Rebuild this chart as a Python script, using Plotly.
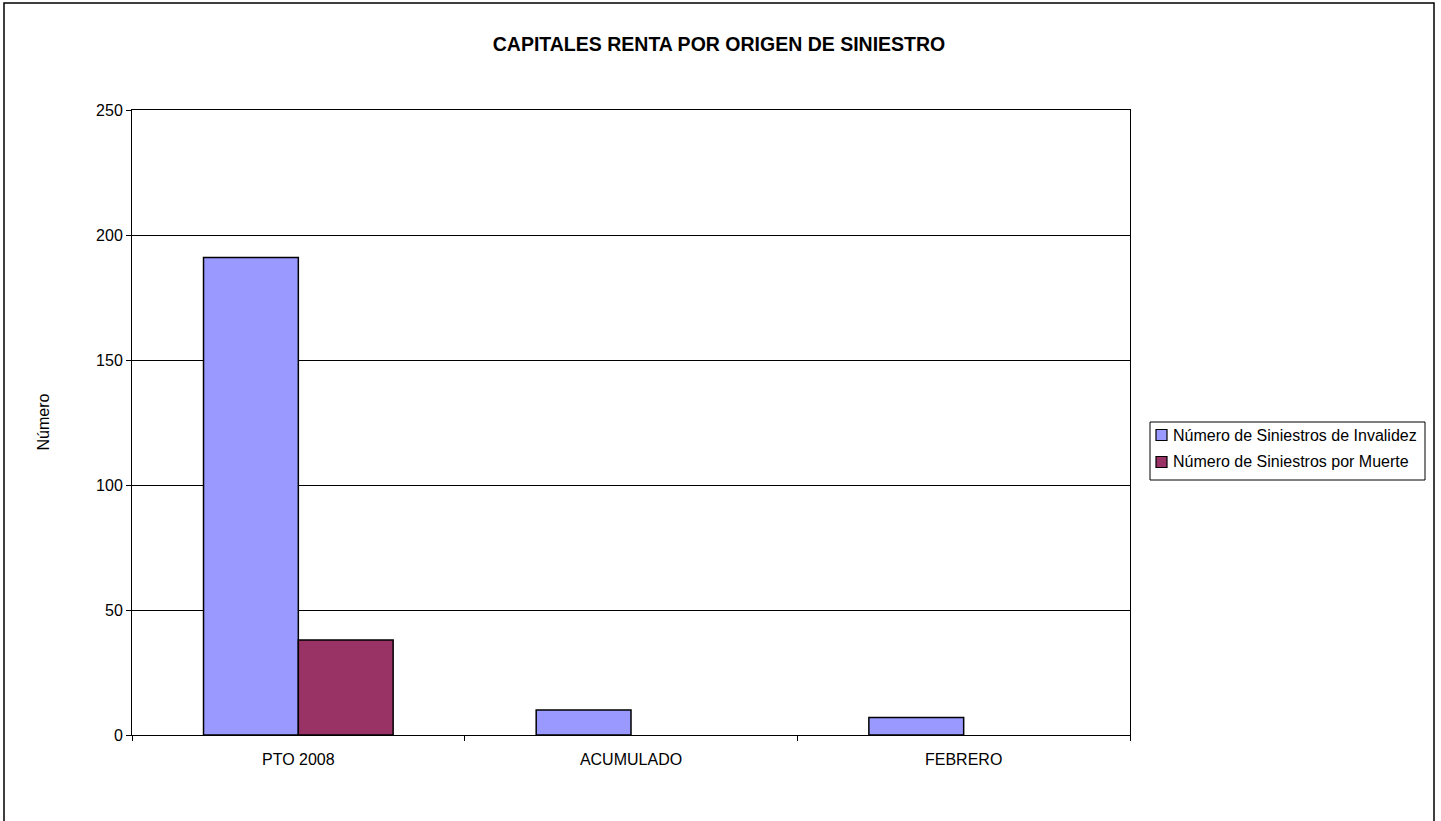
import plotly.graph_objects as go

categories = ["PTO 2008", "ACUMULADO", "FEBRERO"]
invalidez = [191, 10, 7]
muerte = [38, 0, 0]
series_names = ["Número de Siniestros de Invalidez", "Número de Siniestros por Muerte"]
series_colors = ["#9999FF", "#993366"]
y_ticks = [0, 50, 100, 150, 200, 250]

FAM = "Liberation Sans, Arial, sans-serif"
font = dict(family=FAM, size=16, color="black")

# plot area in page pixels
L, R, T, B = 132, 1130, 110, 735
W, H = 1441, 821


def px(x):
    return (x - L) / (R - L)


def py(y):
    return (B - y) / (B - T)


fig = go.Figure()
fig.add_trace(go.Bar(x=categories, y=invalidez, name=series_names[0],
                     marker=dict(color=series_colors[0], line=dict(color="black", width=1.5))))
fig.add_trace(go.Bar(x=categories, y=[v if v != 0 else None for v in muerte], name=series_names[1],
                     marker=dict(color=series_colors[1], line=dict(color="black", width=1.5))))

fig.update_layout(
    width=W, height=H,
    margin=dict(l=L, r=W - R, t=T, b=H - B, autoexpand=False),
    paper_bgcolor="white", plot_bgcolor="white",
    font=font,
    barmode="group", bargap=0.43, bargroupgap=0,
    title=dict(text="<b>CAPITALES RENTA POR ORIGEN DE SINIESTRO</b>",
               x=719 / W, xref="container", xanchor="center",
               y=1 - 44 / H, yref="container", yanchor="middle",
               font=dict(family=FAM, size=19.5, color="black")),
    showlegend=False,
)
fig.update_xaxes(type="category", tickson="boundaries", ticks="outside", ticklen=5,
                 tickcolor="black", showline=True, linecolor="black", linewidth=1,
                 mirror=True, showgrid=False, tickfont=font, ticklabelstandoff=10)
fig.update_yaxes(range=[0, 250], tickvals=y_ticks, ticks="outside", ticklen=5,
                 tickcolor="black", showline=True, linecolor="black", linewidth=1,
                 mirror=True, showgrid=True, gridcolor="black", gridwidth=1,
                 zeroline=False, tickfont=font)

fig.add_annotation(text="Número", textangle=-90, xref="paper", yref="paper",
                   x=px(43), y=0.5, showarrow=False, xanchor="center", yanchor="middle",
                   font=font)

# manual legend
fig.add_shape(type="rect", xref="paper", yref="paper",
              x0=px(1150), x1=px(1425), y0=py(480), y1=py(422),
              line=dict(color="black", width=1), fillcolor="white")
for i, (name, col) in enumerate(zip(series_names, series_colors)):
    cy = 435 + i * 27
    fig.add_shape(type="rect", xref="paper", yref="paper",
                  x0=px(1156), x1=px(1167), y0=py(cy + 5.5), y1=py(cy - 5.5),
                  line=dict(color="black", width=1.2), fillcolor=col)
    fig.add_annotation(text=name, xref="paper", yref="paper", x=px(1171), y=py(cy),
                       xanchor="left", yanchor="middle", showarrow=False, font=font)

# outer chart border
fig.add_shape(type="rect", xref="paper", yref="paper",
              x0=px(4), x1=px(1434), y0=py(840), y1=py(3),
              line=dict(color="black", width=1.5), fillcolor="rgba(0,0,0,0)", layer="above")

fig.write_html("out.html", config={"displayModeBar": False},
               post_script="document.body.style.margin='0';")
